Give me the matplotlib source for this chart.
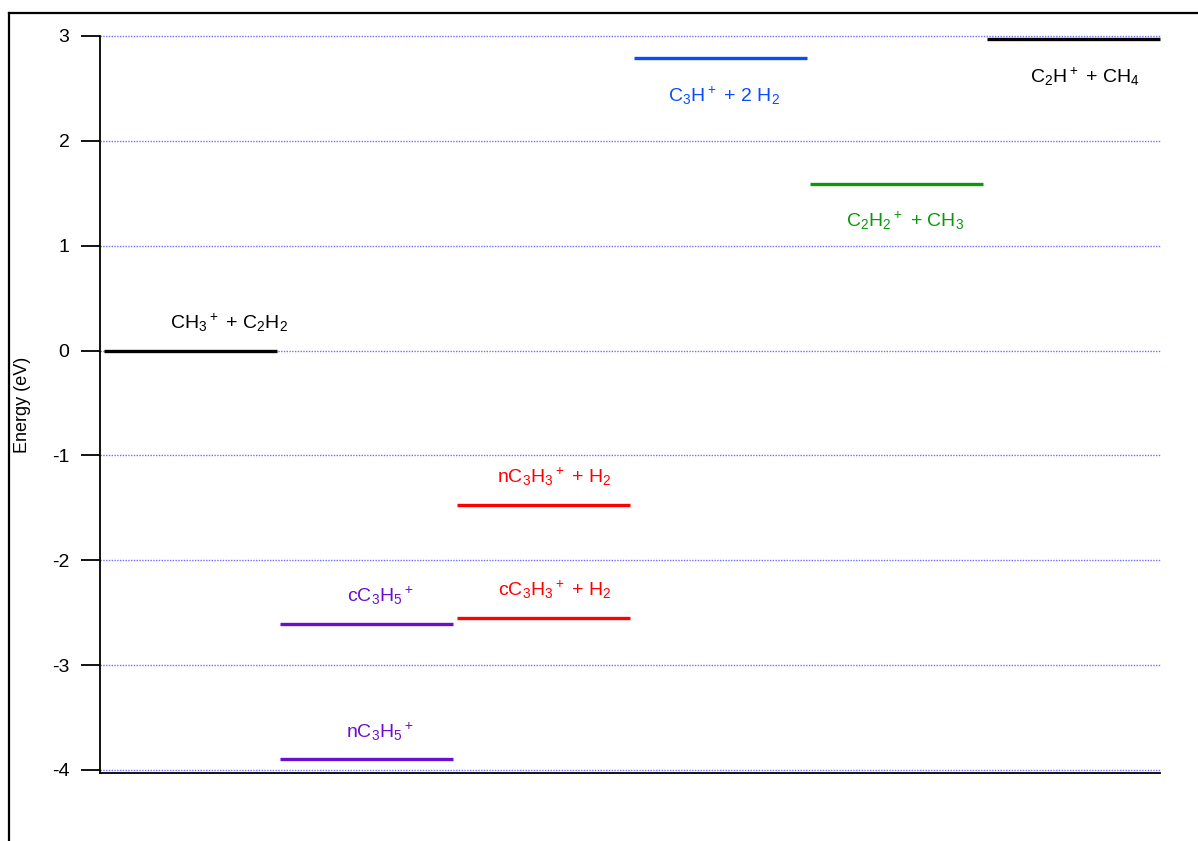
import matplotlib
matplotlib.use("Agg")
import matplotlib.pyplot as plt
from matplotlib.lines import Line2D

plt.rcParams['font.family'] = ['Liberation Sans', 'DejaVu Sans']
plt.rcParams['mathtext.fontset'] = 'custom'
plt.rcParams['mathtext.rm'] = 'Liberation Sans'
plt.rcParams['mathtext.default'] = 'regular'
plt.rcParams['axes.unicode_minus'] = False

# energy levels (eV), one column per level
columns = [0, 1, 1, 2, 2, 3, 4, 5]
energies = [0.0, -2.61, -3.90, -1.47, -2.55, 2.79, 1.59, 2.97]
labels = [r'CH$_3$$^+$ + C$_2$H$_2$', r'cC$_3$H$_5$$^+$', r'nC$_3$H$_5$$^+$',
          r'nC$_3$H$_3$$^+$ + H$_2$', r'cC$_3$H$_3$$^+$ + H$_2$',
          r'C$_3$H$^+$ + 2 H$_2$', r'C$_2$H$_2$$^+$ + CH$_3$', r'C$_2$H$^+$ + CH$_4$']
colors = ['black', '#6a0fd0', '#6a0fd0', '#ff0000', '#ff0000', '#0a4bff', '#0a990a', 'black']
label_above = [True, True, True, True, True, False, False, False]
label_dx = [0.73, 0.585, 0.585, 0.575, 0.575, 0.53, 0.56, 0.575]
yticks = [-4, -3, -2, -1, 0, 1, 2, 3]

fig = plt.figure(figsize=(11.98, 8.41), dpi=100)
ax = fig.add_axes([100/1198, 68/841, 1060/1198, 737/841])

# frame around the graph window
fig.add_artist(Line2D([9/1198, 1.0], [1 - 13/841, 1 - 13/841], color='black', lw=1.6))
fig.add_artist(Line2D([9/1198, 9/1198], [0.0, 1 - 13/841], color='black', lw=1.6))

for t in yticks:
    ax.axhline(t, color='#6f6fff', lw=1.0, ls=(0, (1, 1)), zorder=1, clip_on=False)

for c, e, lab, col, above, dx in zip(columns, energies, labels, colors, label_above, label_dx):
    ax.plot([c + 0.02, c + 1.0], [e, e], color=col, lw=2.4, solid_capstyle='butt',
            zorder=3, clip_on=False)
    if above:
        ax.text(c + dx, e + 0.16, lab, color=col, fontsize=14, ha='center', va='bottom',
                zorder=4, bbox=dict(facecolor='white', edgecolor='none', pad=1))
    else:
        ax.text(c + dx, e - 0.25, lab, color=col, fontsize=14, ha='center', va='top',
                zorder=4, bbox=dict(facecolor='white', edgecolor='none', pad=1))

ax.set_xlim(0, 6)
ax.set_ylim(-4.03, 3.0)
ax.set_yticks(yticks)
ax.set_xticks([])
ax.tick_params(axis='y', direction='out', length=14, width=1.3, labelsize=14, pad=8)
ax.spines['top'].set_visible(False)
ax.spines['right'].set_visible(False)
ax.spines['left'].set_linewidth(1.3)
ax.spines['bottom'].set_linewidth(1.3)
ax.set_ylabel('Energy (eV)', fontsize=13, labelpad=15)

fig.savefig('out.png', dpi=100)
